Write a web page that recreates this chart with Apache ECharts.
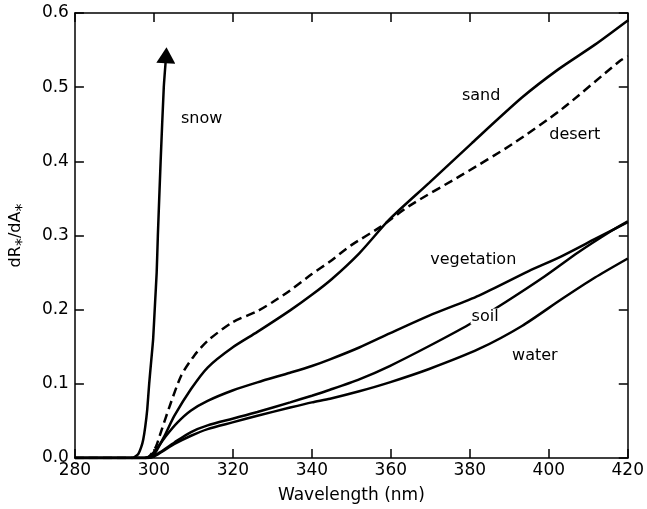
<!DOCTYPE html>
<html>
<head>
<meta charset="utf-8">
<script src="https://cdn.jsdelivr.net/npm/echarts@6/dist/echarts.min.js"></script>
<style>
  html, body { margin: 0; padding: 0; background: #fff; }
  #chart { width: 647px; height: 509px; }
</style>
</head>
<body>
<div id="chart"></div>
<script>
// Sensitivity dR*/dA* versus wavelength for several surface types, [nm, value]
const snow = [[280,0],[294.5,0],[295.0,0.001],[296.0,0.005],[296.8,0.015],[297.3,0.025],[297.8,0.042],[298.3,0.065],[298.8,0.100],[299.3,0.130],[299.8,0.160],[300.3,0.210],[300.7,0.250],[301.0,0.300],[301.7,0.400],[302.5,0.500],[303.1,0.543]];
const sand = [[280,0],[297.5,0],[299,0.002],[300.2,0.006],[302.7,0.030],[305.2,0.057],[309.4,0.093],[313.6,0.122],[319.9,0.149],[326.2,0.170],[334.5,0.199],[340,0.220],[345,0.241],[352,0.276],[359.7,0.322],[369.7,0.371],[380.6,0.425],[393.2,0.486],[402.4,0.524],[411.6,0.557],[420,0.590]];
const desert = [[280,0],[298,0],[299,0.003],[300.5,0.015],[301.9,0.037],[304.0,0.070],[306.9,0.111],[310.2,0.138],[313.6,0.158],[319.9,0.183],[326.2,0.198],[330,0.210],[334.5,0.226],[340,0.248],[344.6,0.265],[350,0.287],[357.2,0.311],[364.7,0.340],[378.1,0.382],[390.7,0.423],[403.2,0.470],[417.9,0.535],[420,0.542]];
const vegetation = [[280,0],[298,0],[300,0.008],[303.1,0.030],[306,0.048],[309.4,0.064],[313.6,0.077],[319.9,0.091],[326.2,0.102],[334.5,0.115],[340,0.124],[344.6,0.133],[352,0.149],[359.7,0.168],[369.7,0.192],[382.3,0.219],[394.9,0.252],[403.2,0.272],[411.6,0.295],[420,0.318]];
const soil = [[280,0],[298.5,0],[301,0.006],[305.2,0.021],[309.4,0.035],[313.6,0.044],[319.9,0.053],[326.2,0.062],[334.5,0.075],[340,0.084],[344.6,0.092],[352,0.106],[359.7,0.124],[369.7,0.151],[379.8,0.180],[389,0.210],[399,0.245],[407.4,0.277],[415.8,0.306],[420,0.319]];
const water = [[280,0],[298.5,0],[301,0.005],[305.2,0.019],[309.4,0.030],[313.6,0.039],[319.9,0.048],[326.2,0.057],[334.5,0.068],[340,0.075],[344.6,0.080],[352,0.090],[359.7,0.102],[369.7,0.120],[382.3,0.147],[393.2,0.178],[403.2,0.214],[411.6,0.243],[420,0.269]];

// Curve names written next to each curve, anchored in data units
const curveLabels = [
  [312.2, 0.457, 'snow'],
  [383.0, 0.488, 'sand'],
  [406.7, 0.435, 'desert'],
  [381.0, 0.267, 'vegetation'],
  [384.0, 0.190, 'soil'],
  [396.6, 0.137, 'water']
];

const xTicks = { min: 280, max: 420, step: 20 };
const yTicks = { min: 0, max: 0.6, step: 0.1 };

const FONT = 'DejaVu Sans';
const INK = '#000';

function xAxisDef(pos, withLabels) {
  return {
    type: 'value', position: pos,
    min: xTicks.min, max: xTicks.max, interval: xTicks.step,
    axisLine: { show: true, onZero: false, lineStyle: { color: INK, width: 1.5 } },
    axisTick: { show: true, inside: true, length: 9, lineStyle: { color: INK, width: 1.5 } },
    axisLabel: { show: withLabels, color: INK, fontFamily: FONT, fontSize: 17, margin: 4 },
    splitLine: { show: false },
    name: withLabels ? 'Wavelength (nm)' : '',
    nameLocation: 'middle', nameGap: 29,
    nameTextStyle: { color: INK, fontFamily: FONT, fontSize: 17 }
  };
}
function yAxisDef(pos, withLabels) {
  return {
    type: 'value', position: pos,
    min: yTicks.min, max: yTicks.max, interval: yTicks.step,
    axisLine: { show: true, onZero: false, lineStyle: { color: INK, width: 1.5 } },
    axisTick: { show: true, inside: true, length: 9, lineStyle: { color: INK, width: 1.5 } },
    axisLabel: { show: withLabels, color: INK, fontFamily: FONT, fontSize: 17, margin: 6,
                 formatter: v => v.toFixed(1) },
    splitLine: { show: false },
    name: withLabels ? 'dR{sub|*}/dA{sub|*}' : '',
    nameLocation: 'middle', nameGap: 42, nameRotate: 90,
    nameTextStyle: { color: INK, fontFamily: FONT, fontSize: 16,
      rich: { sub: { color: INK, fontFamily: FONT, fontSize: 16, padding: [14, 0, 0, 0] } } }
  };
}

function curve(name, data, dashed) {
  return {
    name, type: 'line', data, showSymbol: false, symbol: 'none',
    smooth: 0.25, animation: false, z: 3,
    lineStyle: { color: INK, width: 2.5, type: dashed ? [9, 5] : 'solid' }
  };
}

// snow ends in an arrow head to show it runs off the scale
const snowData = snow.map((p, i) => i === snow.length - 1
  ? { value: p, symbol: 'triangle', symbolSize: [19, 16], symbolRotate: -2.5,
      itemStyle: { color: INK } }
  : { value: p, symbol: 'none' });

const chart = echarts.init(document.getElementById('chart'), null, { renderer: 'canvas' });
chart.setOption({
  backgroundColor: '#fff',
  animation: false,
  grid: { left: 73, right: 17, top: 13, bottom: 50, containLabel: false },
  xAxis: [xAxisDef('bottom', true), xAxisDef('top', false)],
  yAxis: [yAxisDef('left', true), yAxisDef('right', false)],
  series: [
    {
      name: 'snow', type: 'line', data: snowData, showSymbol: true,
      smooth: 0.15, animation: false, z: 3,
      lineStyle: { color: INK, width: 2.5 }
    },
    curve('sand', sand, false),
    curve('desert', desert, true),
    curve('vegetation', vegetation, false),
    curve('soil', soil, false),
    curve('water', water, false),
    {
      name: 'labels', type: 'scatter', symbol: 'circle', symbolSize: 1, z: 5, silent: true,
      itemStyle: { color: 'rgba(0,0,0,0)' },
      data: curveLabels.map(l => ({ value: [l[0], l[1]], name: l[2] })),
      label: {
        show: true, position: [0, 0], align: 'center', verticalAlign: 'middle',
        formatter: p => p.name,
        color: '#000', opacity: 1, fontFamily: FONT, fontSize: 16,
        backgroundColor: '#fff', padding: [0, 1], textBorderWidth: 0
      }
    }
  ]
});
</script>
</body>
</html>
